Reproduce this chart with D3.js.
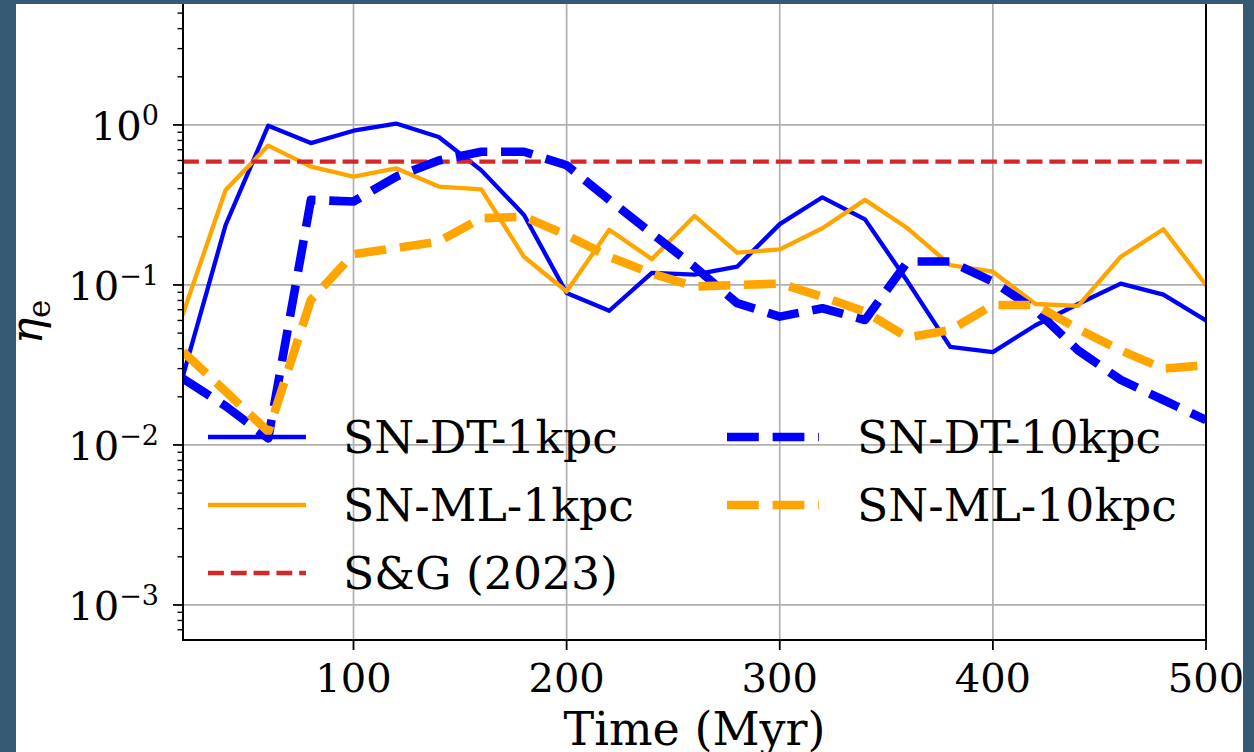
<!DOCTYPE html>
<meta charset="utf-8">
<style>
  body { margin: 0; background: #fff; }
  svg { display: block; }
  text { font-family: "DejaVu Serif", serif; fill: #000; }
</style>
<body>
<script src="https://cdn.jsdelivr.net/npm/d3@7"></script>
<script>

// time axis (Myr)
var times = [20, 40, 60, 80, 100, 120, 140, 160, 180, 200, 220, 240, 260,
             280, 300, 320, 340, 360, 380, 400, 420, 440, 460, 480, 500];

// eta_e for each run
var dt1kpc  = [0.027, 0.237, 0.99, 0.77, 0.92, 1.02, 0.84, 0.52, 0.274, 0.089, 0.069, 0.119, 0.116,
               0.130, 0.24, 0.353, 0.257, 0.105, 0.041, 0.038, 0.056, 0.076, 0.102, 0.087, 0.060];
var ml1kpc  = [0.066, 0.392, 0.743, 0.549, 0.475, 0.536, 0.412, 0.396, 0.150, 0.091, 0.221, 0.145, 0.27,
               0.159, 0.167, 0.226, 0.34, 0.226, 0.133, 0.121, 0.076, 0.074, 0.150, 0.223, 0.100];
var dt10kpc = [0.026, 0.0175, 0.011, 0.34, 0.332, 0.475, 0.60, 0.68, 0.68, 0.56, 0.34, 0.21, 0.13,
               0.077, 0.0634, 0.0715, 0.0604, 0.14, 0.14, 0.105, 0.0698, 0.039, 0.0255, 0.0191, 0.0143];
var ml10kpc = [0.0383, 0.0216, 0.0121, 0.0806, 0.156, 0.17, 0.187, 0.261, 0.267, 0.205, 0.150, 0.118, 0.0977,
               0.1, 0.102, 0.0845, 0.068, 0.047, 0.0523, 0.075, 0.075, 0.053, 0.039, 0.030, 0.0315];
var sgValue = 0.59;  // S&G (2023)

var xTicks = [100, 200, 300, 400, 500];
var yTicks = [1e-3, 1e-2, 1e-1, 1];
var yTickExp = ["\u22123", "\u22122", "\u22121", "0"];

var width = 1254, height = 752;
var pL = 183, pR = 1206, pT = 4, pB = 640;

var svg = d3.select("body").append("svg")
    .attr("width", width)
    .attr("height", height);

svg.append("rect").attr("width", width).attr("height", height).attr("fill", "#fff");

var x = d3.scaleLinear().domain([20, 500]).range([pL, pR]);
var y = d3.scaleLog().domain([6.04e-4, 5.7]).range([pB, pT]);

// grid
svg.append("g").selectAll("line").data(xTicks).enter().append("line")
    .attr("x1", d => x(d)).attr("x2", d => x(d))
    .attr("y1", 0).attr("y2", pB)
    .attr("stroke", "#b0b0b0").attr("stroke-width", 1.7);
svg.append("g").selectAll("line").data(yTicks).enter().append("line")
    .attr("x1", pL).attr("x2", pR)
    .attr("y1", d => y(d)).attr("y2", d => y(d))
    .attr("stroke", "#b0b0b0").attr("stroke-width", 1.7);

svg.append("clipPath").attr("id", "plot")
  .append("rect").attr("x", pL).attr("y", 0).attr("width", pR - pL).attr("height", pB);

var series = [
  {name: "SN-DT-1kpc",  values: dt1kpc,  color: "#0000ff", lw: 4.3, dash: null},
  {name: "SN-ML-1kpc",  values: ml1kpc,  color: "#ffa500", lw: 4.3, dash: null},
  {name: "S&G (2023)",  values: null,    color: "#d62728", lw: 4.3, dash: "15.9,6.9"},
  {name: "SN-DT-10kpc", values: dt10kpc, color: "#0000ff", lw: 8.6, dash: "31.8,13.8"},
  {name: "SN-ML-10kpc", values: ml10kpc, color: "#ffa500", lw: 8.6, dash: "31.8,13.8"}
];

var line = d3.line().x(d => x(d[0])).y(d => y(d[1]));

var plot = svg.append("g").attr("clip-path", "url(#plot)");
series.forEach(function(s) {
  var pts = s.values ? times.map((t, i) => [t, s.values[i]]) : [[20, sgValue], [500, sgValue]];
  plot.append("path")
      .attr("d", line(pts))
      .attr("fill", "none")
      .attr("stroke", s.color)
      .attr("stroke-width", s.lw)
      .attr("stroke-linejoin", "round")
      .attr("stroke-linecap", s.dash ? "butt" : "square")
      .attr("stroke-dasharray", s.dash);
});

// spines
var axes = svg.append("g").attr("stroke", "#000").attr("stroke-width", 2);
axes.append("line").attr("x1", pL).attr("x2", pL).attr("y1", 0).attr("y2", pB + 1);
axes.append("line").attr("x1", pR).attr("x2", pR).attr("y1", 0).attr("y2", pB + 1);
axes.append("line").attr("x1", pL - 1).attr("x2", pR + 1).attr("y1", pB).attr("y2", pB);

// x ticks
axes.selectAll(".xt").data(xTicks).enter().append("line")
    .attr("x1", d => x(d)).attr("x2", d => x(d))
    .attr("y1", pB).attr("y2", pB + 10).attr("stroke-width", 1.8);
svg.selectAll(".xl").data(xTicks).enter().append("text")
    .attr("x", d => x(d)).attr("y", 692)
    .attr("text-anchor", "middle").attr("font-size", 40)
    .text(d => d);

// y ticks
var minor = y.ticks().filter(v => yTicks.indexOf(v) < 0 && y(v) >= pT);
axes.selectAll(".ym").data(minor).enter().append("line")
    .attr("x1", pL - 5.5).attr("x2", pL)
    .attr("y1", d => y(d)).attr("y2", d => y(d)).attr("stroke-width", 1.4);
axes.selectAll(".yt").data(yTicks).enter().append("line")
    .attr("x1", pL - 10).attr("x2", pL)
    .attr("y1", d => y(d)).attr("y2", d => y(d)).attr("stroke-width", 1.8);

var yl = svg.selectAll(".yl").data(yTicks).enter().append("text")
    .attr("x", 159).attr("y", d => y(d) + 15)
    .attr("text-anchor", "end").attr("font-size", 40);
yl.append("tspan").text("10");
yl.append("tspan").attr("dy", -15).attr("font-size", 27).text((d, i) => yTickExp[i]);

// axis labels
svg.append("text")
    .attr("x", (pL + pR) / 2).attr("y", 745)
    .attr("text-anchor", "middle").attr("font-size", 46)
    .text("Time (Myr)");

var ylab = svg.append("text")
    .attr("transform", "translate(42," + ((pT + pB) / 2) + ") rotate(-90)")
    .attr("text-anchor", "middle").attr("font-size", 44);
ylab.append("tspan").attr("font-style", "italic").text("\u03b7");
ylab.append("tspan").attr("dy", 8).attr("font-size", 31).text("e");

// legend
var legRows = [437, 505, 573];
var legCols = [{x0: 208, x1: 306, tx: 343}, {x0: 727, x1: 819, tx: 857}];
var leg = svg.append("g");
series.forEach(function(s, i) {
  var col = legCols[i < 3 ? 0 : 1], ry = legRows[i < 3 ? i : i - 3];
  leg.append("line")
      .attr("x1", col.x0).attr("x2", col.x1).attr("y1", ry).attr("y2", ry)
      .attr("stroke", s.color).attr("stroke-width", s.lw)
      .attr("stroke-linecap", "butt")
      .attr("stroke-dasharray", s.dash);
  leg.append("text")
      .attr("x", col.tx).attr("y", ry + 16)
      .attr("font-size", 45.7)
      .text(s.name);
});

// frame around the picture
var frame = svg.append("g").attr("fill", "#375a74");
frame.append("rect").attr("x", 0).attr("y", 0).attr("width", 16).attr("height", height);
frame.append("rect").attr("x", 0).attr("y", 0).attr("width", width).attr("height", 4);
frame.append("rect").attr("x", 1243).attr("y", 0).attr("width", 11).attr("height", height);

</script>
